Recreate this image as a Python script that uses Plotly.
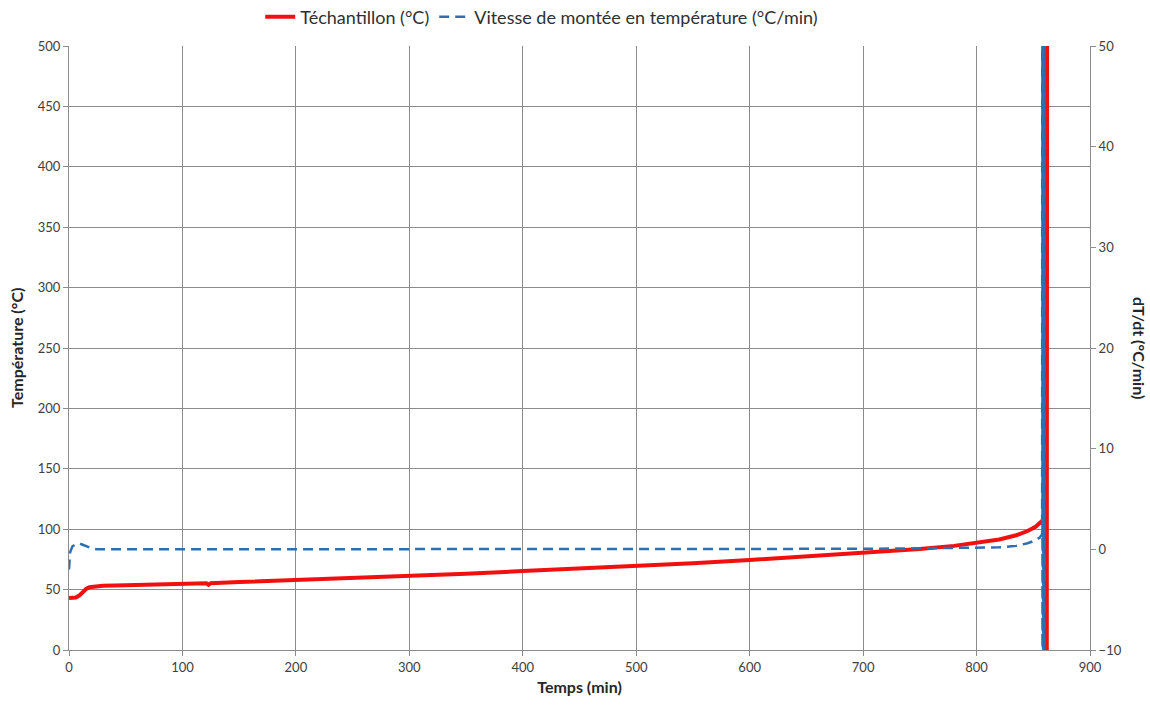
import plotly.graph_objects as go

# Sample temperature (°C) versus time (min); the record ends with erratic readings
temps_min = [0, 3, 6, 9, 12, 15, 18, 21, 25, 30, 50, 100, 121, 123, 125, 150, 200, 250,
             300, 350, 400, 450, 500, 550, 600, 650, 700, 750, 780, 800, 820, 835,
             845, 852, 857, 861.4, 861.6, 861.8, 862.0, 862.2, 862.4]
t_echantillon = [43, 43, 43.5, 45, 48, 50.5, 52, 52.5, 53, 53.2, 53.6, 54.8, 55.2, 54.0, 55.3,
                 56.2, 57.8, 59.4, 61.3, 63.2, 65.3, 67.3, 69.5, 71.9, 74.5, 77.3, 80.3,
                 83.6, 86.2, 88.5, 91.5, 95, 98.5, 102, 106, 110, 900, -200, 850, -150, 900]

# Heating rate dT/dt (°C/min)
vitesse_min = [0, 1, 3, 6, 8, 11, 15, 20, 25, 50, 100, 200, 300, 400, 500, 600, 650, 700,
               750, 800, 820, 835, 845, 852, 856, 857.8,
               858.0, 858.15, 858.3, 858.45, 858.6, 858.75, 858.9, 859.05, 859.2,
               859.35, 859.5, 859.65, 859.8, 859.95]
vitesse = [-2.0, -0.3, 0.3, 0.5, 0.6, 0.5, 0.3, 0.1, 0.0, 0.0, 0.0, 0.0, 0.0, 0.0, 0.0,
           0.0, 0.0, 0.05, 0.1, 0.15, 0.2, 0.35, 0.6, 0.9, 1.2, 1.5,
           90, -40, 83, -33, 95, -47, 87, -36, 92, -43, 85, -38, 97, -45]

x_ticks = list(range(0, 901, 100))
y_ticks = list(range(0, 501, 50))
y2_ticks = list(range(-10, 51, 10))

font_family = "Lato, 'Open Sans', sans-serif"
tick_color = "#404040"
title_color = "#262626"
grid_color = "#8c8c8c"

fig = go.Figure()
fig.add_trace(go.Scatter(
    x=temps_min, y=t_echantillon, name="Téchantillon (°C)", mode="lines",
    line=dict(color="#f01010", width=4), yaxis="y"))
fig.add_trace(go.Scatter(
    x=vitesse_min, y=vitesse, name="Vitesse de montée en température (°C/min)",
    mode="lines", line=dict(color="#2e6fb0", width=2.5, dash="10px,6px"), yaxis="y2"))

fig.update_layout(
    width=1150, height=706,
    margin=dict(l=69, r=60, t=46, b=56, autoexpand=False),
    paper_bgcolor="white", plot_bgcolor="white",
    font=dict(family=font_family, size=13, color=tick_color),
    showlegend=True,
    legend=dict(orientation="h", x=0.463, xanchor="center",
                y=(650 - 17) / 604, yanchor="middle",
                font=dict(size=18, color="#303030"),
                bgcolor="rgba(0,0,0,0)", traceorder="normal"),
    xaxis=dict(range=[0, 900], tickvals=x_ticks, showgrid=True, gridcolor=grid_color,
               gridwidth=1, showline=True, linecolor=grid_color, linewidth=1,
               ticks="outside", ticklen=5, tickcolor=grid_color, zeroline=False,
               tickfont=dict(size=13, color=tick_color),
               title=dict(text="<b>Temps (min)</b>", font=dict(size=16, color=title_color),
                          standoff=8)),
    yaxis=dict(range=[0, 500], tickvals=y_ticks, showgrid=True, gridcolor=grid_color,
               gridwidth=1, showline=True, linecolor=grid_color, linewidth=1,
               ticks="outside", ticklen=5, tickcolor=grid_color, zeroline=False,
               tickfont=dict(size=13, color=tick_color)),
    yaxis2=dict(range=[-10, 50], tickvals=y2_ticks, overlaying="y", side="right",
                showgrid=False, showline=True, linecolor=grid_color, linewidth=1,
                ticks="outside", ticklen=5, tickcolor=grid_color, zeroline=False,
                tickfont=dict(size=13, color=tick_color)),
    annotations=[
        dict(text="<b>Température (°C)</b>", xref="paper", yref="paper",
             x=-0.052, y=0.5, xanchor="center", yanchor="middle", textangle=-90,
             showarrow=False, font=dict(size=16, color=title_color)),
        dict(text="<b>dT/dt (°C/min)</b>", xref="paper", yref="paper",
             x=1.049, y=0.5, xanchor="center", yanchor="middle", textangle=90,
             showarrow=False, font=dict(size=16, color=title_color)),
    ],
)

fig.write_html("out.html")
